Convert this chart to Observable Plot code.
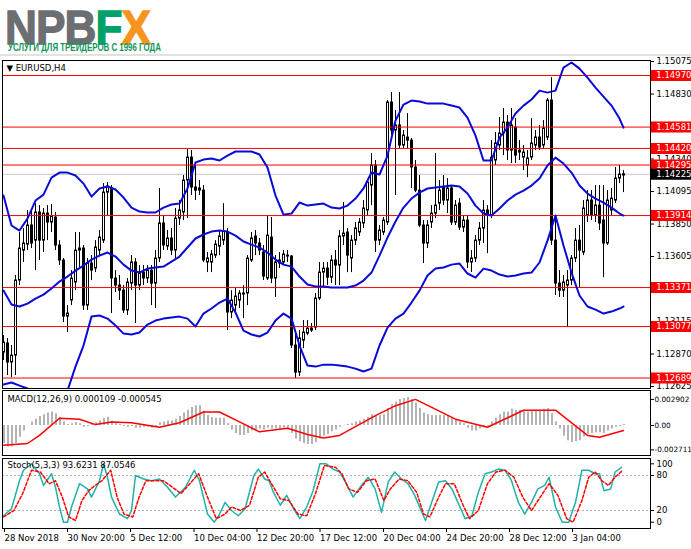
<!DOCTYPE html>
<html><head><meta charset="utf-8">
<script src="https://cdn.jsdelivr.net/npm/d3@7"></script>
<script src="https://cdn.jsdelivr.net/npm/@observablehq/plot@0.6"></script>
<style>
html,body{margin:0;padding:0;background:#fff;}
#page{position:relative;width:691px;height:549px;overflow:hidden;background:#fff;font-family:"DejaVu Sans",sans-serif;}
.panel{position:absolute;left:0;}
#logo{position:absolute;left:5px;top:0px;font-family:"Liberation Sans",Arial,sans-serif;font-weight:bold;font-size:48px;line-height:normal;white-space:nowrap;transform-origin:0 0;transform:scaleX(0.92);letter-spacing:-1px;color:#6d6e71;-webkit-text-stroke:1.3px currentColor;}
#tagline{position:absolute;left:8px;top:42px;font-family:"Liberation Sans",Arial,sans-serif;font-weight:bold;font-size:10px;line-height:normal;white-space:nowrap;transform-origin:0 0;transform:scaleX(0.79);color:#12955b;}
#rule{position:absolute;left:0;top:54px;width:691px;height:2px;background:#e2e2e2;}
</style></head>
<body><div id="page">
<div id="logo">NPB<span style="color:#00a06a">F</span><span style="color:#f7941d">X</span></div>
<div id="tagline">УСЛУГИ ДЛЯ ТРЕЙДЕРОВ С 1996 ГОДА</div>
<div id="rule"></div>
<div id="main" class="panel" style="top:55px"></div>
<div id="macd" class="panel" style="top:388px"></div>
<div id="stoch" class="panel" style="top:456px"></div>
</div>
<script>
// ---------- data ----------
const symbolLabel = "▼ EURUSD,H4";
const open = [1.12881,1.12949,1.12806,1.12858,1.13424,1.13650,1.13695,1.13839,1.13725,1.13937,1.13725,1.13929,1.13861,1.13899,1.13688,1.13575,1.13152,1.13273,1.13409,1.13650,1.13665,1.13235,1.13552,1.13514,1.13650,1.13725,1.14087,1.14118,1.13439,1.13386,1.13348,1.13198,1.13401,1.13560,1.13386,1.13484,1.13439,1.13499,1.13401,1.13590,1.13854,1.13680,1.13741,1.13650,1.13891,1.13937,1.14178,1.14351,1.14125,1.14102,1.14102,1.13560,1.13560,1.13612,1.13680,1.13725,1.13786,1.13183,1.13235,1.13273,1.13318,1.13326,1.13575,1.13756,1.13703,1.13635,1.13439,1.13748,1.13439,1.13552,1.13560,1.13612,1.13605,1.12934,1.12730,1.12971,1.13024,1.13062,1.13069,1.13288,1.13484,1.13514,1.13446,1.13575,1.13537,1.13756,1.13786,1.13590,1.13725,1.13786,1.13854,1.13952,1.14140,1.14291,1.13725,1.13786,1.13861,1.14766,1.14555,1.14593,1.14442,1.14502,1.14479,1.14276,1.14102,1.13839,1.13703,1.13861,1.13929,1.14004,1.14125,1.14027,1.14118,1.13861,1.14004,1.13823,1.13876,1.13560,1.13590,1.13725,1.13816,1.13952,1.13914,1.14329,1.14442,1.14532,1.14615,1.14404,1.14577,1.14389,1.14351,1.14291,1.14351,1.14442,1.14502,1.14442,1.14502,1.14781,1.13725,1.13401,1.13348,1.13386,1.13424,1.13590,1.13725,1.13635,1.13914,1.14027,1.13914,1.13989,1.13876,1.13703,1.13952,1.14027,1.14193,1.14216];
const high = [1.13009,1.12987,1.12934,1.13462,1.13786,1.13816,1.13952,1.13952,1.14004,1.13989,1.13967,1.13989,1.13997,1.13937,1.13725,1.13590,1.13235,1.13499,1.13786,1.13786,1.13688,1.13590,1.13612,1.13725,1.13801,1.14155,1.14163,1.14140,1.13499,1.13462,1.13386,1.13439,1.13612,1.13590,1.13537,1.13537,1.13537,1.13537,1.13650,1.14118,1.13914,1.13801,1.13816,1.13967,1.14027,1.14216,1.14419,1.14404,1.14291,1.14178,1.14140,1.13635,1.13650,1.13725,1.13801,1.14004,1.13816,1.13348,1.13364,1.13348,1.13386,1.13612,1.13786,1.13801,1.13741,1.13688,1.13914,1.13899,1.13612,1.13635,1.13650,1.13650,1.13612,1.13047,1.13047,1.13122,1.13122,1.13100,1.13326,1.13560,1.13560,1.13560,1.13612,1.13650,1.13801,1.14012,1.13816,1.13763,1.13861,1.13891,1.14027,1.14178,1.14381,1.14329,1.13839,1.13899,1.14781,1.14841,1.14706,1.14841,1.14555,1.14683,1.14495,1.14329,1.14216,1.13876,1.13876,1.13989,1.14381,1.14178,1.14216,1.14193,1.14140,1.14027,1.14042,1.13914,1.13914,1.13650,1.13763,1.13861,1.14027,1.13989,1.14479,1.14540,1.14653,1.14721,1.14668,1.14721,1.14645,1.14479,1.14442,1.14404,1.14645,1.14555,1.14593,1.14630,1.14796,1.14954,1.13891,1.13499,1.13462,1.13499,1.13612,1.13816,1.13839,1.14027,1.14102,1.14102,1.14140,1.14140,1.14140,1.14102,1.14118,1.14276,1.14291,1.14253];
const low = [1.12821,1.12708,1.12692,1.12708,1.13386,1.13560,1.13650,1.13665,1.13499,1.13575,1.13635,1.13725,1.13786,1.13650,1.13537,1.13107,1.13032,1.13235,1.13348,1.13514,1.13198,1.13198,1.13424,1.13484,1.13612,1.13703,1.13914,1.13175,1.13333,1.13273,1.13175,1.13160,1.13348,1.13100,1.13348,1.13386,1.13401,1.13235,1.13213,1.13560,1.13650,1.13650,1.13612,1.13590,1.13839,1.13876,1.13891,1.14065,1.14027,1.14065,1.13560,1.13484,1.13484,1.13590,1.13612,1.13688,1.13047,1.13137,1.13183,1.13213,1.13137,1.13235,1.13560,1.13612,1.13612,1.13424,1.13424,1.13401,1.13296,1.13514,1.13537,1.13560,1.12911,1.12685,1.12700,1.12911,1.13009,1.13032,1.13047,1.13273,1.13371,1.13386,1.13401,1.13386,1.13386,1.13688,1.13484,1.13484,1.13688,1.13756,1.13816,1.13914,1.13989,1.13635,1.13688,1.13763,1.13839,1.14517,1.14065,1.14419,1.14419,1.14419,1.14118,1.14087,1.13823,1.13552,1.13665,1.13816,1.13891,1.13952,1.13989,1.13929,1.13839,1.13839,1.13801,1.13786,1.13514,1.13484,1.13560,1.13688,1.13703,1.13627,1.13891,1.14291,1.14404,1.14366,1.14329,1.14306,1.14306,1.14329,1.14253,1.14200,1.14329,1.14404,1.14404,1.14419,1.14479,1.13688,1.13311,1.13296,1.13296,1.13069,1.13386,1.13560,1.13371,1.13612,1.13861,1.13876,1.13861,1.13801,1.13446,1.13688,1.13914,1.14004,1.14155,1.14087];
const close = [1.12956,1.12806,1.12858,1.13424,1.13665,1.13703,1.13839,1.13703,1.13937,1.13725,1.13929,1.13861,1.13906,1.13688,1.13575,1.13152,1.13175,1.13439,1.13650,1.13665,1.13235,1.13552,1.13499,1.13673,1.13748,1.14087,1.14133,1.13439,1.13386,1.13348,1.13198,1.13409,1.13560,1.13386,1.13477,1.13439,1.13499,1.13401,1.13590,1.13854,1.13688,1.13741,1.13650,1.13891,1.13952,1.14178,1.14351,1.14125,1.14102,1.14118,1.13575,1.13590,1.13620,1.13695,1.13756,1.13793,1.13183,1.13273,1.13303,1.13326,1.13326,1.13590,1.13741,1.13703,1.13650,1.13454,1.13763,1.13439,1.13560,1.13575,1.13620,1.13605,1.12934,1.12730,1.12987,1.13032,1.13062,1.13047,1.13288,1.13484,1.13514,1.13446,1.13575,1.13537,1.13756,1.13778,1.13612,1.13725,1.13816,1.13861,1.13967,1.14163,1.14291,1.13725,1.13801,1.13876,1.14766,1.14555,1.14593,1.14442,1.14517,1.14479,1.14276,1.14102,1.13839,1.13703,1.13839,1.13929,1.13989,1.14102,1.14027,1.14118,1.13861,1.13989,1.13823,1.13876,1.13560,1.13590,1.13725,1.13816,1.13952,1.13914,1.14351,1.14457,1.14532,1.14615,1.14404,1.14593,1.14366,1.14404,1.14389,1.14344,1.14457,1.14502,1.14427,1.14570,1.14781,1.13725,1.13401,1.13348,1.13409,1.13424,1.13590,1.13725,1.13650,1.13967,1.14027,1.13914,1.13989,1.13854,1.13703,1.14027,1.14042,1.14193,1.14223,1.14225];

const bbIdx = [0,2,4,6,8,10,12,14,16,18,20,22,24,26,28,30,32,34,36,38,40,42,44,46,48,50,52,54,56,58,60,62,64,66,68,70,72,74,76,78,80,82,84,86,88,90,92,94,96,98,100,102,104,106,108,110,112,114,116,118,120,122,124,126,128,130,132,134,136,138,140,142,144,146,148,150,152,154,155];
const bbUpper = [1.14065,1.13839,1.13801,1.13891,1.14027,1.14072,1.14200,1.14238,1.14238,1.14216,1.14155,1.14057,1.14118,1.14133,1.14110,1.14050,1.13974,1.13944,1.13937,1.13937,1.13974,1.13997,1.14004,1.14118,1.14314,1.14336,1.14344,1.14329,1.14366,1.14397,1.14397,1.14397,1.14374,1.14276,1.14065,1.13921,1.13929,1.14012,1.13989,1.13997,1.14004,1.13974,1.13967,1.13989,1.14042,1.14118,1.14238,1.14223,1.14366,1.14630,1.14751,1.14781,1.14774,1.14758,1.14758,1.14758,1.14743,1.14728,1.14653,1.14517,1.14329,1.14329,1.14502,1.14577,1.14683,1.14743,1.14789,1.14856,1.14841,1.14856,1.15030,1.15068,1.15022,1.14954,1.14879,1.14811,1.14743,1.14645,1.14577];
const bbMiddle = [1.13348,1.13243,1.13228,1.13250,1.13288,1.13318,1.13364,1.13416,1.13454,1.13499,1.13537,1.13582,1.13612,1.13635,1.13605,1.13544,1.13499,1.13484,1.13514,1.13522,1.13529,1.13567,1.13605,1.13673,1.13741,1.13771,1.13793,1.13801,1.13793,1.13763,1.13718,1.13695,1.13673,1.13635,1.13582,1.13544,1.13529,1.13454,1.13394,1.13379,1.13379,1.13371,1.13371,1.13371,1.13386,1.13424,1.13484,1.13612,1.13748,1.13869,1.13974,1.14042,1.14087,1.14118,1.14125,1.14133,1.14140,1.14133,1.14080,1.13989,1.13929,1.13914,1.13967,1.14027,1.14072,1.14102,1.14140,1.14193,1.14291,1.14351,1.14306,1.14238,1.14140,1.14080,1.14042,1.14012,1.13974,1.13929,1.13914];
const bbLower = [1.12640,1.12655,1.12632,1.12610,1.12579,1.12549,1.12519,1.12519,1.12594,1.12775,1.12934,1.13152,1.13160,1.13137,1.13085,1.13024,1.13017,1.13032,1.13092,1.13122,1.13137,1.13145,1.13152,1.13137,1.13077,1.13175,1.13213,1.13258,1.13288,1.13183,1.13047,1.13017,1.13002,1.13032,1.13122,1.13175,1.13137,1.12934,1.12783,1.12775,1.12790,1.12790,1.12783,1.12775,1.12760,1.12738,1.12760,1.12934,1.13069,1.13137,1.13175,1.13258,1.13348,1.13462,1.13514,1.13522,1.13544,1.13552,1.13477,1.13446,1.13514,1.13499,1.13469,1.13454,1.13462,1.13477,1.13484,1.13560,1.13725,1.13914,1.13688,1.13484,1.13311,1.13228,1.13205,1.13175,1.13190,1.13213,1.13228];

const levels = [1.14970,1.14581,1.14420,1.14295,1.13914,1.13371,1.13077,1.12689];
const currentPrice = 1.14225;
const priceTicks = [1.15075,1.14830,1.14585,1.14340,1.14095,1.13850,1.13605,1.13360,1.13115,1.12870,1.12625];

const macdLabel = "MACD(12,26,9) 0.000109 -0.000545";
const macdHist = [-0.0020,-0.0024,-0.0024,-0.0020,-0.0013,-0.0006,0.0000,0.0004,0.0007,0.0010,0.0012,0.0014,0.0015,0.0013,0.0009,0.0004,0.0001,0.0002,0.0003,0.0002,-0.0002,-0.0001,0.0001,0.0003,0.0005,0.0008,0.0009,0.0005,0.0003,0.0001,-0.0001,-0.0002,-0.0001,-0.0003,-0.0003,-0.0002,-0.0002,-0.0003,-0.0001,0.0003,0.0004,0.0005,0.0005,0.0007,0.0010,0.0014,0.0017,0.0020,0.0022,0.0022,0.0016,0.0011,0.0009,0.0008,0.0008,0.0008,0.0002,-0.0005,-0.0009,-0.0011,-0.0011,-0.0009,-0.0006,-0.0005,-0.0004,-0.0005,-0.0003,-0.0004,-0.0004,-0.0004,-0.0003,-0.0003,-0.0009,-0.0015,-0.0018,-0.0020,-0.0021,-0.0021,-0.0019,-0.0015,-0.0012,-0.0010,-0.0007,-0.0005,-0.0002,0.0000,0.0001,0.0002,0.0004,0.0005,0.0007,0.0009,0.0012,0.0010,0.0011,0.0012,0.0019,0.0023,0.0026,0.0029,0.0030,0.0031,0.0029,0.0025,0.0019,0.0014,0.0012,0.0011,0.0011,0.0011,0.0011,0.0010,0.0008,0.0007,0.0004,0.0002,-0.0003,-0.0006,-0.0006,-0.0004,-0.0002,-0.0001,0.0004,0.0008,0.0012,0.0015,0.0015,0.0018,0.0017,0.0017,0.0016,0.0015,0.0016,0.0017,0.0017,0.0018,0.0019,0.0013,0.0004,-0.0004,-0.0012,-0.0017,-0.0019,-0.0018,-0.0017,-0.0013,-0.0010,-0.0009,-0.0008,-0.0008,-0.0009,-0.0006,-0.0004,-0.0002,-0.0001,0.0001];
const sigIdx = [0,6,9,14,19,23,27,32,39,44,50,54,59,64,71,76,80,84,93,98,103,113,121,130,138,146,149,155];
const sigVal = [-0.0022,-0.0020,-0.0011,0.0008,0.0007,0.0001,0.0004,0.0003,-0.0002,0.0003,0.0015,0.0015,0.0004,-0.0007,-0.0003,-0.0010,-0.0014,-0.0011,0.0011,0.0022,0.0029,0.0007,-0.0002,0.0017,0.0017,-0.0011,-0.0013,-0.000545];
const macdTicks = [0.002902, 0, -0.002711];

const stochLabel = "Stoch(5,3,3) 93.6231 87.0546";
const kIdx = [0,2,4,5,7,9,10,12,13,14,15,16,17,19,21,22,24,25,26,27,29,31,32,33,35,37,39,41,43,45.5,47.7,49,51,52.7,53.8,55.4,57,58.7,60.4,62.6,63.7,65.3,66.4,67.5,69.2,70.8,72.5,74.1,75.8,77.4,79.1,80.7,82.4,84,85.7,87.4,89.5,91.2,92.9,94.5,96.2,97.8,99.5,101.1,102.8,104.4,105.5,107.2,108.8,110.5,112.1,113.8,115.4,117.1,118.7,120.4,122,123.7,125.4,127,128.7,130.3,132,133.6,135.3,136.4,138,139.7,141.3,143,144.6,146.3,147.9,149,150.1,151.8,152.9,154.5];
const kVal = [11,23,71,89,100,83,63,83,60,26,0,0,26,66,57,43,71,100,77,43,14,6,20,80,74,71,74,60,43,60,89,71,14,0,11,34,20,11,23,80,91,74,71,51,29,46,23,6,26,54,100,100,91,86,66,43,63,77,57,17,69,86,74,66,46,20,3,37,69,71,57,31,6,11,51,83,86,91,89,71,34,14,34,57,63,77,26,0,0,34,89,89,83,83,54,57,86,94];
const dIdx = [0,2.6,4.8,7,9.2,11.4,13,14.7,16.3,18,19.6,21.3,22.9,24.6,26.8,28.4,30.1,32.3,33.9,35.6,37.8,40,42.2,44.4,46.6,48.8,51,53.2,55.4,57,59.3,61.5,63.7,65.3,67,69.2,71.4,73.6,75.8,78,80.2,83,84.6,86.3,88.5,90.7,92.9,95.1,96.7,98.9,101.1,103.3,105,106.6,108.8,110.5,112.7,114.9,116.5,118.7,121,123.1,125.4,127.6,129.8,132,134.2,136.4,138.6,140.8,142.4,144.6,146.3,147.9,149.6,151.2,152.9,154.5];
const dVal = [9,20,49,89,86,66,71,43,9,3,37,54,63,71,89,43,14,9,43,71,71,71,60,49,66,83,43,6,14,26,20,29,77,86,66,40,37,14,11,49,97,94,83,57,51,71,74,37,57,74,71,51,14,9,43,66,66,29,6,20,66,86,89,77,43,20,43,66,46,6,0,37,77,86,71,63,77,87];
const stochTicks = [100, 80, 20, 0];
const stochLevels = [80, 20];

const timeLabels = ["28 Nov 2018","30 Nov 20:00","5 Dec 12:00","10 Dec 04:00","12 Dec 20:00","17 Dec 12:00","20 Dec 04:00","24 Dec 20:00","28 Dec 12:00","3 Jan 04:00"];
const timeTickIdx = [0,15.75,31.5,47.375,63.125,78.875,94.75,110.5,126.25,142];

// ---------- build ----------
const candles = open.map((o, i) => ({i, o, h: high[i], l: low[i], c: close[i]}));
const bulls = candles.filter(d => d.c >= d.o);
const bears = candles.filter(d => d.c < d.o);
const bands = bbIdx.map((i, k) => ({i, u: bbUpper[k], m: bbMiddle[k], l: bbLower[k]}));
const hist = macdHist.map((v, i) => ({i, v}));
const sig = sigIdx.map((i, k) => ({i, v: sigVal[k]}));
const kLine = kIdx.map((i, k) => ({i, v: kVal[k]}));
const dLine = dIdx.map((i, k) => ({i, v: dVal[k]}));

const xDomain = [-0.25, 161.75];
const boxX1 = 162, boxX2 = 172.5, boxText = 163.2;
const font = {fontFamily: "DejaVu Sans", fontSize: "8.5px", background: "transparent", color: "black", overflow: "visible"};
const BLUE = "#0a0ad8";

const mainPlot = Plot.plot({
  width: 691, height: 335, marginLeft: 2, marginRight: 41, marginTop: 5, marginBottom: 2,
  x: {domain: xDomain, axis: null},
  y: {domain: [1.12610, 1.15083]},
  style: font,
  marks: [
    Plot.ruleY([currentPrice], {stroke: "#c8c8c8"}),
    Plot.ruleX(candles, {x: "i", y1: "l", y2: "h", stroke: "black"}),
    Plot.rect(bulls, {x1: d => d.i - 0.125, x2: d => d.i + 0.375, y1: "o", y2: "c", fill: "white", stroke: "black"}),
    Plot.rect(bears, {x1: d => d.i - 0.125, x2: d => d.i + 0.375, y1: "o", y2: "c", fill: "black", stroke: "black"}),
    Plot.ruleY(levels, {stroke: "#ff0000"}),
    Plot.line(bands, {x: "i", y: "u", stroke: BLUE, strokeWidth: 2, clip: true}),
    Plot.line(bands, {x: "i", y: "m", stroke: BLUE, strokeWidth: 2, clip: true}),
    Plot.line(bands, {x: "i", y: "l", stroke: BLUE, strokeWidth: 2, clip: true}),
    Plot.frame({stroke: "black"}),
    Plot.axisY(priceTicks, {anchor: "right", label: null, tickSize: 3, tickPadding: 3, tickFormat: d => d.toFixed(5)}),
    Plot.ruleY(levels, {x1: boxX1, x2: boxX2, stroke: "#ff0000", strokeWidth: 11}),
    Plot.text(levels, {x: boxText, y: d => d, text: d => d.toFixed(5), fill: "white", textAnchor: "start"}),
    Plot.ruleY([currentPrice], {x1: boxX1, x2: boxX2, stroke: "black", strokeWidth: 11}),
    Plot.text([currentPrice], {x: boxText, y: d => d, text: d => d.toFixed(5), fill: "white", textAnchor: "start"}),
    Plot.text([symbolLabel], {frameAnchor: "top-left", dx: 4, dy: 4, fill: "black"})
  ]
});
document.getElementById("main").appendChild(mainPlot);

const macdPlot = Plot.plot({
  width: 691, height: 68, marginLeft: 2, marginRight: 41, marginTop: 2, marginBottom: 1,
  x: {domain: xDomain, axis: null},
  y: {domain: [-0.003333, 0.003889]},
  style: font,
  marks: [
    Plot.ruleX(hist, {x: "i", y1: 0, y2: "v", stroke: "#b4b4b4", strokeWidth: 2, dx: 0.5}),
    Plot.line(sig, {x: "i", y: "v", stroke: "#ff0000"}),
    Plot.frame({stroke: "black"}),
    Plot.axisY(macdTicks, {anchor: "right", label: null, tickSize: 3, tickPadding: 1, fontSize: 7.3, tickFormat: d => d === 0 ? "0.00" : d.toFixed(6)}),
    Plot.text([macdLabel], {frameAnchor: "top-left", dx: 5, dy: 5, fill: "black"})
  ]
});
document.getElementById("macd").appendChild(macdPlot);

const stochPlot = Plot.plot({
  width: 691, height: 93, marginLeft: 2, marginRight: 41, marginTop: 2, marginBottom: 21,
  x: {domain: xDomain},
  y: {domain: [-10.8, 109.1]},
  style: font,
  marks: [
    Plot.ruleY(stochLevels, {stroke: "#b0b0b0", strokeDasharray: "2,2"}),
    Plot.line(kLine, {x: "i", y: "v", stroke: "#20b2aa"}),
    Plot.line(dLine, {x: "i", y: "v", stroke: "#ff0000", strokeDasharray: "3,2"}),
    Plot.frame({stroke: "black"}),
    Plot.axisY(stochTicks, {anchor: "right", label: null, tickSize: 3, tickPadding: 3}),
    Plot.axisX(timeTickIdx, {anchor: "bottom", label: null, tickSize: 4, tickPadding: 2, textAnchor: "start", dx: 1, tickFormat: d => timeLabels[timeTickIdx.indexOf(d)]}),
    Plot.text([stochLabel], {frameAnchor: "top-left", dx: 5, dy: 3, fill: "black"})
  ]
});
document.getElementById("stoch").appendChild(stochPlot);
</script>
</body></html>
